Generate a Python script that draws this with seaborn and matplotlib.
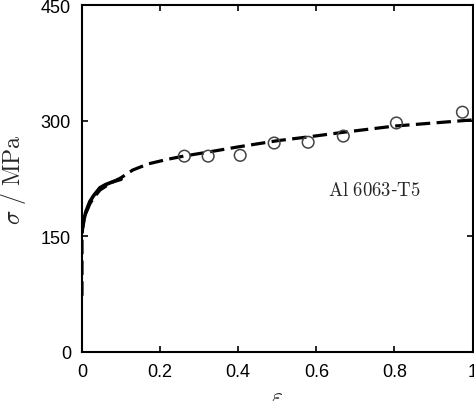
import matplotlib
matplotlib.use("Agg")
import matplotlib.pyplot as plt
import seaborn as sns
import pandas as pd

# fitted curve (dashed)
fit_strain = [0.0, 0.0, 0.002, 0.005, 0.01, 0.02, 0.03, 0.046, 0.07, 0.1, 0.13,
              0.17, 0.22, 0.26, 0.32, 0.4, 0.5, 0.58, 0.67, 0.8, 0.9, 1.0]
fit_stress = [73, 150, 163, 172, 180, 192, 200, 210, 218, 226, 236,
              244, 250, 254, 259, 266, 274, 279, 285, 293, 297, 301]

# measured curve (solid), small strains
exp_strain = [0.002, 0.005, 0.01, 0.02, 0.03, 0.046, 0.06, 0.08, 0.1]
exp_stress = [162, 172, 182, 195, 203, 213, 217, 221, 224]

# open circles
pt_strain = [0.262, 0.323, 0.405, 0.492, 0.579, 0.669, 0.805, 0.974]
pt_stress = [254, 254, 255, 271, 272, 280, 297, 311]

xticks = [0, 0.2, 0.4, 0.6, 0.8, 1]
xtick_labels = ["0", "0.2", "0.4", "0.6", "0.8", "1"]
yticks = [0, 150, 300, 450]

sns.set_style("ticks")
plt.rcParams["font.family"] = ["Liberation Sans", "DejaVu Sans"]
plt.rcParams["mathtext.fontset"] = "cm"

fig = plt.figure(figsize=(4.74, 4.02), dpi=100)
ax = fig.add_axes([0.173, 0.122, 0.824, 0.863])

fit = pd.DataFrame({"eps": fit_strain, "sig": fit_stress})
exp = pd.DataFrame({"eps": exp_strain, "sig": exp_stress})
pts = pd.DataFrame({"eps": pt_strain, "sig": pt_stress})

sns.lineplot(data=fit, x="eps", y="sig", ax=ax, color="black", lw=2.3,
             sort=False, estimator=None)
ax.lines[-1].set_dashes((4.5, 2))
sns.lineplot(data=exp, x="eps", y="sig", ax=ax, color="black", lw=2.6,
             sort=False, estimator=None)
sns.scatterplot(data=pts, x="eps", y="sig", ax=ax, s=70, marker="o",
                facecolor="none", edgecolor="#444444", linewidth=1.1, zorder=3)

ax.set_xlim(0, 1)
ax.set_ylim(0, 450)
ax.set_xticks(xticks)
ax.set_xticklabels(xtick_labels)
ax.set_yticks(yticks)
ax.tick_params(direction="in", length=4, width=1.2, top=True, right=True,
               labelsize=13, colors="black", pad=8)
for s in ax.spines.values():
    s.set_linewidth(1.5)
    s.set_color("black")

ax.set_xlabel(r"$\varepsilon$", fontsize=17, labelpad=4)
ax.set_ylabel(r"$\sigma\ /\ \mathrm{MPa}$", fontsize=17, labelpad=9)

ax.text(0.749, 210, r"$\mathrm{Al\ 6063}$-$\mathrm{T5}$", fontsize=13.5,
        ha="center", va="center")

fig.savefig("out.png", dpi=100)
